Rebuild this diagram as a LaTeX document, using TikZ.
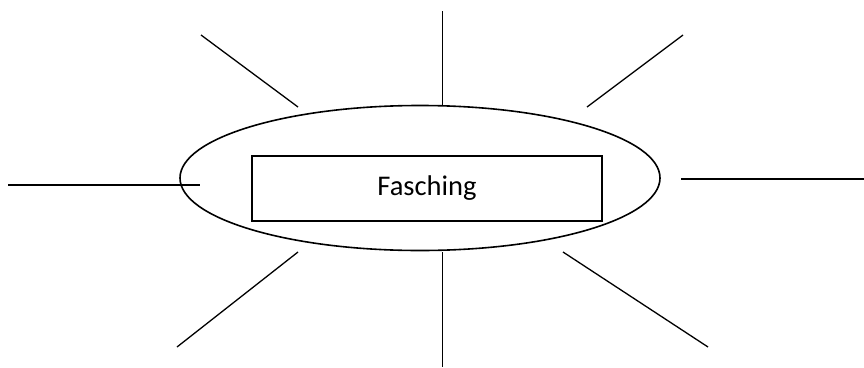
\documentclass[tikz,border=0pt]{standalone}
\usepackage{fontspec}
\setmainfont{Carlito}
\usetikzlibrary{shapes.geometric}
\begin{document}
\begin{tikzpicture}[x=1pt,y=-1pt,
  ray/.style={draw=black,line width=1.3pt},
  thinray/.style={draw=black,line width=1pt},
  hub/.style={ellipse,draw=black,line width=1.6pt,minimum width=480pt,minimum height=145pt,inner sep=0pt},
  titlebox/.style={rectangle,draw=black,line width=1.6pt,minimum width=350pt,minimum height=65pt,inner sep=0pt},
  label/.style={font=\fontsize{28.5}{34}\selectfont,inner sep=0pt}]
\useasboundingbox (0,0) rectangle (864,367);

% central ellipse with the title box
\node[hub] (hub) at (420,178) {};
\node[titlebox] (box) at (427,188.5) {};
\node[label] (title) at (box.center) {Fasching};

% free ends of the rays
\coordinate (nA) at (442,11);   \coordinate (nB) at (442,106);
\coordinate (nwA) at (201,35);  \coordinate (nwB) at (298,107);
\coordinate (neA) at (683,35);  \coordinate (neB) at (587,107);
\coordinate (wA) at (8,185);    \coordinate (wB) at (200,185);
\coordinate (eA) at (681,179);  \coordinate (eB) at (864,179);
\coordinate (swA) at (298,252); \coordinate (swB) at (177,347);
\coordinate (sA) at (442,252);  \coordinate (sB) at (442,367);
\coordinate (seA) at (563,252); \coordinate (seB) at (708,347);

% rays
\draw[thinray] (nA) -- (nB);
\draw[ray] (nwA) -- (nwB);
\draw[ray] (neA) -- (neB);
\draw[ray] (wA) -- (wB);
\draw[ray] (eA) -- (eB);
\draw[ray] (swA) -- (swB);
\draw[thinray] (sA) -- (sB);
\draw[ray] (seA) -- (seB);
\end{tikzpicture}
\end{document}
